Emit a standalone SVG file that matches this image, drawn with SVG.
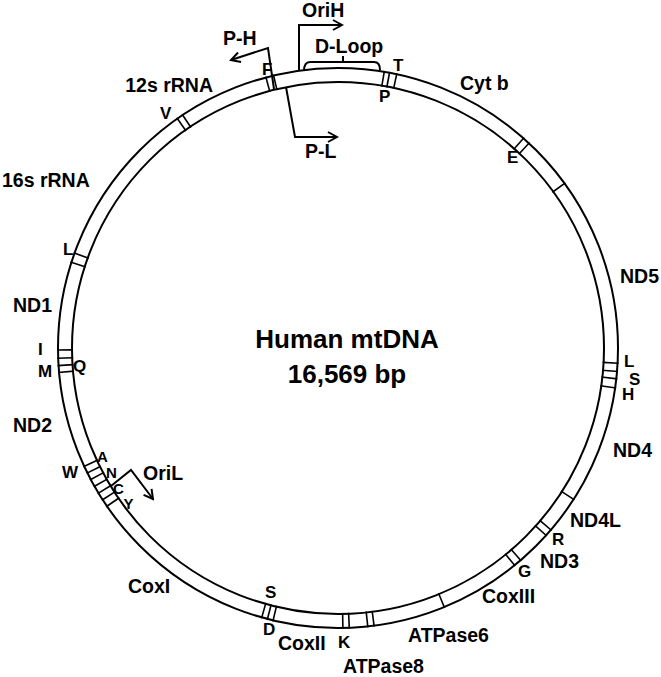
<svg xmlns="http://www.w3.org/2000/svg" xmlns:xlink="http://www.w3.org/1999/xlink" width="661" height="677" viewBox="0 0 661 677">
<style>
.ring{fill:none;stroke:#000;stroke-width:2}
.tk{stroke:#000;stroke-width:1.6}
.ar{fill:none;stroke:#000;stroke-width:2;stroke-linejoin:miter}
text{font-family:"Liberation Sans",Arial,sans-serif;font-weight:bold;fill:#000}
.g{font-size:19.5px}
.t{font-size:17px}
.s{font-size:15px}
.c{font-size:26px;text-anchor:middle}
</style>
<defs>
<line id="tk" class="tk" x1="338" y1="67" x2="338" y2="83"/>
<marker id="ah" viewBox="0 0 12 12" refX="10" refY="6" markerWidth="12" markerHeight="12" markerUnits="userSpaceOnUse" orient="auto">
<path d="M1,1 L10,6 L1,11" fill="none" stroke="#000" stroke-width="2"/>
</marker>
</defs>
<rect width="661" height="677" fill="#fff"/>
<g id="ring">
<circle class="ring" cx="338" cy="348" r="280"/>
<circle class="ring" cx="338" cy="348" r="266"/>
</g>
<g id="markers">
<use href="#tk" transform="rotate(325 338 348)"/>
<use href="#tk" transform="rotate(326.3 338 348)"/>
<use href="#tk" transform="rotate(345.1 338 348)"/>
<use href="#tk" transform="rotate(346.7 338 348)"/>
<use href="#tk" transform="rotate(9.5 338 348)"/>
<use href="#tk" transform="rotate(10.6 338 348)"/>
<use href="#tk" transform="rotate(12.1 338 348)"/>
<use href="#tk" transform="rotate(41.5 338 348)"/>
<use href="#tk" transform="rotate(43 338 348)"/>
<use href="#tk" transform="rotate(54 338 348)"/>
<use href="#tk" transform="rotate(93.1 338 348)"/>
<use href="#tk" transform="rotate(94.8 338 348)"/>
<use href="#tk" transform="rotate(96.3 338 348)"/>
<use href="#tk" transform="rotate(98.2 338 348)"/>
<use href="#tk" transform="rotate(122.7 338 348)"/>
<use href="#tk" transform="rotate(130.5 338 348)"/>
<use href="#tk" transform="rotate(132 338 348)"/>
<use href="#tk" transform="rotate(139.3 338 348)"/>
<use href="#tk" transform="rotate(140.9 338 348)"/>
<use href="#tk" transform="rotate(157.7 338 348)"/>
<use href="#tk" transform="rotate(172.6 338 348)"/>
<use href="#tk" transform="rotate(173.9 338 348)"/>
<use href="#tk" transform="rotate(177.7 338 348)"/>
<use href="#tk" transform="rotate(179 338 348)"/>
<use href="#tk" transform="rotate(193.4 338 348)"/>
<use href="#tk" transform="rotate(194.6 338 348)"/>
<use href="#tk" transform="rotate(195.8 338 348)"/>
<use href="#tk" transform="rotate(235.6 338 348)"/>
<use href="#tk" transform="rotate(237.2 338 348)"/>
<use href="#tk" transform="rotate(238.8 338 348)"/>
<use href="#tk" transform="rotate(240.4 338 348)"/>
<use href="#tk" transform="rotate(242 338 348)"/>
<use href="#tk" transform="rotate(243.5 338 348)"/>
<use href="#tk" transform="rotate(245 338 348)"/>
<use href="#tk" transform="rotate(265 338 348)"/>
<use href="#tk" transform="rotate(266.4 338 348)"/>
<use href="#tk" transform="rotate(267.9 338 348)"/>
<use href="#tk" transform="rotate(269.6 338 348)"/>
<use href="#tk" transform="rotate(287.8 338 348)"/>
<use href="#tk" transform="rotate(289.8 338 348)"/>
</g>
<g id="connectors">
<path id="oriH-arrow" class="ar" d="M299,71 V25 H342" marker-end="url(#ah)"/>
<path id="pH-arrow" class="ar" d="M274,89 L268,48 L231,60" marker-end="url(#ah)"/>
<path id="pL-arrow" class="ar" d="M286,87 L295,137 H337" marker-end="url(#ah)"/>
<path id="oriL-arrow" class="ar" d="M111,486 L131,470 L153,499" marker-end="url(#ah)"/>
<path id="dloop-bracket" class="ar" d="M304,71 Q304,62 310,62 H374 Q380,62 380,70 M343,62 V56"/>
</g>
<g id="labels">
<g id="oriH"><text class="g" x="302" y="17">OriH</text></g>
<g id="pH"><text class="g" x="223" y="45">P-H</text></g>
<g id="dloop"><text class="g" x="315" y="53">D-Loop</text></g>
<g id="pL"><text class="g" x="305" y="158">P-L</text></g>
<g id="rrna12"><text class="g" x="213" y="92" text-anchor="end">12s rRNA</text></g>
<g id="rrna16"><text class="g" x="2" y="187">16s rRNA</text></g>
<g id="cytb"><text class="g" x="460" y="90">Cyt b</text></g>
<g id="nd5"><text class="g" x="620" y="283">ND5</text></g>
<g id="nd4"><text class="g" x="613" y="457">ND4</text></g>
<g id="nd4l"><text class="g" x="570" y="527">ND4L</text></g>
<g id="nd3"><text class="g" x="540" y="568">ND3</text></g>
<g id="cox3"><text class="g" x="482" y="603">CoxIII</text></g>
<g id="atp6"><text class="g" x="408" y="642">ATPase6</text></g>
<g id="atp8"><text class="g" x="343" y="673">ATPase8</text></g>
<g id="cox2"><text class="g" x="278" y="650">CoxII</text></g>
<g id="cox1"><text class="g" x="128" y="593">CoxI</text></g>
<g id="oriL"><text class="g" x="143" y="480">OriL</text></g>
<g id="nd2"><text class="g" x="13" y="432">ND2</text></g>
<g id="nd1"><text class="g" x="13" y="312">ND1</text></g>
<g id="trna">
<text class="t" x="393" y="71">T</text>
<text class="t" x="379" y="102">P</text>
<text class="t" x="262" y="75">F</text>
<text class="t" x="160" y="119">V</text>
<text class="t" x="507" y="163">E</text>
<text class="t" x="624" y="367">L</text>
<text class="t" x="629" y="385">S</text>
<text class="t" x="622" y="400">H</text>
<text class="t" x="552" y="545">R</text>
<text class="t" x="518" y="577">G</text>
<text class="t" x="338" y="648">K</text>
<text class="t" x="265" y="598">S</text>
<text class="t" x="263" y="635">D</text>
<text class="t" x="62" y="478">W</text>
<text class="s" x="97" y="462">A</text>
<text class="s" x="106" y="478">N</text>
<text class="s" x="113" y="494">C</text>
<text class="s" x="123.5" y="509">Y</text>
<text class="t" x="38" y="355">I</text>
<text class="t" x="38" y="377">M</text>
<text class="t" x="73" y="372">Q</text>
<text class="t" x="63" y="255">L</text>
</g>
<g id="title">
<text class="c" x="347" y="348">Human mtDNA</text>
<text class="c" x="347" y="383">16,569 bp</text>
</g>
</g>
</svg>
